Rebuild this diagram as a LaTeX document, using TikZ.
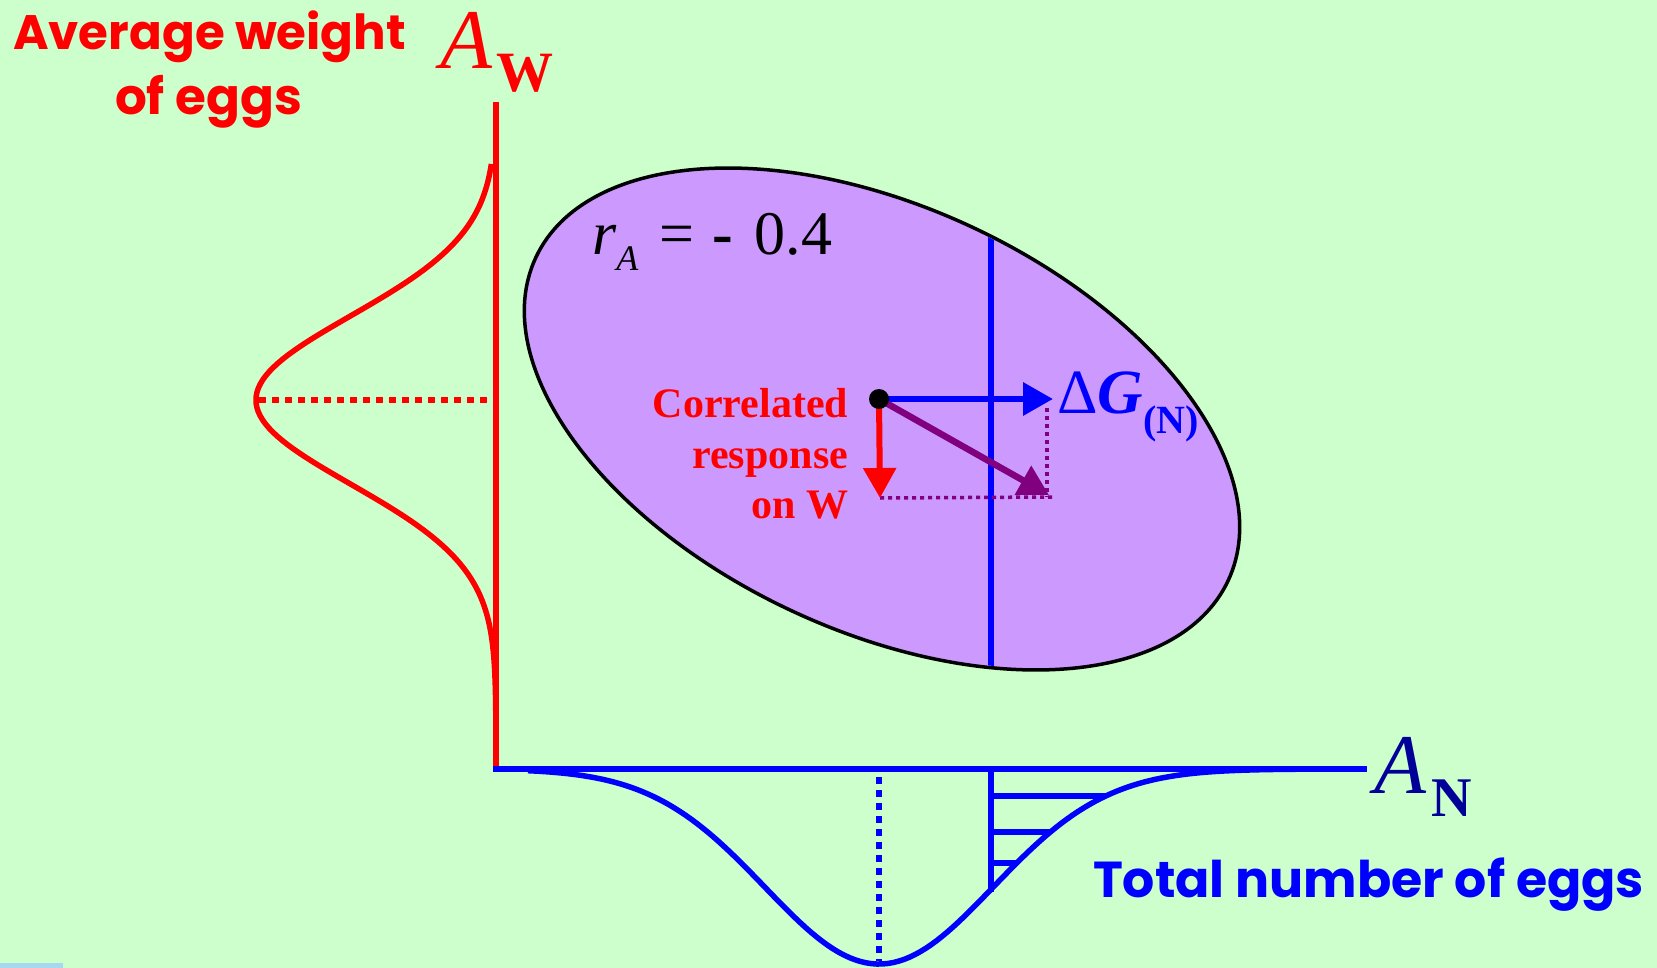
\documentclass[tikz,border=0pt]{standalone}
\usepackage{fontspec}
\setmainfont{Liberation Serif}
\newfontfamily\comicfont{Poppins}
\usetikzlibrary{arrows.meta}
\definecolor{bgg}{HTML}{CCFFCC}
\definecolor{lav}{HTML}{CC99FF}
\definecolor{pur}{HTML}{800080}
\definecolor{navy}{HTML}{000099}
\definecolor{rd}{HTML}{FF0000}
\definecolor{bl}{HTML}{0000FF}
\definecolor{edgeblue}{HTML}{A6D8EE}
\begin{document}
\begin{tikzpicture}[x=1pt,y=-1pt,
  lbl/.style={inner sep=0pt, outer sep=0pt, anchor=base west},
  lblr/.style={inner sep=0pt, outer sep=0pt, anchor=base east},
  comic/.style={lbl, font={\comicfont\bfseries\fontsize{50}{50}\selectfont}},
  corr/.style={lblr, text=rd, font={\bfseries\fontsize{42}{42}\selectfont}},
  bigA/.style={lbl, font={\itshape\fontsize{85}{85}\selectfont}},
  subW/.style={lbl, font={\bfseries\fontsize{57}{57}\selectfont}},
  arr/.style={line width=6.5pt, -{Triangle[length=30pt,width=32pt]}},
  dotline/.style={line width=6pt, dash pattern=on 6.5pt off 6.5pt},
  pdot/.style={line width=3.5pt, pur, dash pattern=on 4pt off 4pt},
  curve/.style={line width=5.5pt, line join=round},
  axis/.style={line width=6.5pt},
  bline/.style={bl, line width=6.5pt}
]
% background and margins
\fill[bgg] (0,0) rectangle (1657,968);
\useasboundingbox (0,0) rectangle (1657,968);
\fill[edgeblue] (0,963) rectangle (63,968);

% ellipse
\begin{scope}[shift={(882,419)}, rotate=-25]
  \filldraw[fill=lav, draw=black, line width=3.5pt] (0,0) ellipse [x radius=382pt, y radius=212pt];
\end{scope}
\begin{scope}
  \clip[shift={(882,419)}, rotate=-25] (0,0) ellipse [x radius=380pt, y radius=210pt];
  \draw[bl, line width=6pt] (991,150) -- (991,720);
\end{scope}

% left red gaussian
\draw[rd, curve] plot[domain=164:770, samples=150] ({496-240*exp(-0.5*((\x-400)/84)^2)}, \x);
\draw[rd, dotline] (259,400) -- (491,400);
\draw[rd, axis] (496,102) -- (496,772);

% bottom blue gaussian
\begin{scope}
  \clip (528,769) -- plot[domain=528:1340, samples=150] (\x, {769+195*exp(-0.5*((\x-879)/114)^2)}) -- (1340,769) -- cycle;
  \draw[bline] (991,796) -- (1400,796);
  \draw[bline] (991,832) -- (1400,832);
  \draw[bline] (991,863) -- (1400,863);
\end{scope}
\draw[bline] (991,769) -- (991,892);
\draw[bl, curve] plot[domain=528:1340, samples=150] (\x, {769+195*exp(-0.5*((\x-879)/114)^2)});
\draw[bl, dotline] (879,777) -- (879,961);
\draw[bl, axis] (493,769) -- (1367,769);

% vectors
\coordinate (o) at (879,399);
\coordinate (bt) at (1053,399);
\coordinate (rt) at (880,498);
\coordinate (pt) at (1049,495);
\coordinate (c1) at (1053,497);
\coordinate (c2) at (1047,408);
\coordinate (c3) at (1047,497);
\draw[pdot] (rt) -- (c1);
\draw[pdot] (c2) -- (c3);
\draw[arr, bl] (o) -- (bt);
\draw[arr, rd, line width=6pt] (o) -- (rt);
\draw[arr, pur, line width=6.5pt] (o) -- (pt);
\node[circle, fill=black, inner sep=0pt, minimum size=20pt] (dot) at (o) {};

% labels
\node[comic, text=rd] (aw1) at (13,50) {\resizebox{393pt}{!}{Average weight}};
\node[comic, text=rd] (aw2) at (115,115) {\resizebox{187pt}{!}{of eggs}};
\node[comic, text=bl] (tn) at (1093,897) {\resizebox{551pt}{!}{Total number of eggs}};

\node[bigA, text=rd] (awA) at (440,69) {A};
\node[subW, text=rd] (awW) at (496,92) {W};
\node[bigA, text=navy] (anA) at (1374,793) {A};
\node[subW, text=navy, font={\bfseries\fontsize{56}{56}\selectfont}] (anN) at (1431,816) {N};

\node[lbl, font={\fontsize{62}{62}\selectfont}] (rA) at (592,255)
  {\textit{r}\raisebox{-16pt}{\fontsize{36}{36}\selectfont\itshape A}\hspace{21pt}=\hspace{18pt}\textbf{-}\hspace{22pt}0.4};

\node[lbl, text=bl, font={\fontsize{63}{63}\selectfont}] (dG) at (1057,413)
  {Δ\textbf{\textit{G}}\raisebox{-20pt}{\fontsize{40}{40}\selectfont\bfseries (N)}};

\node[corr] (cr1) at (848,417) {Correlated};
\node[corr] (cr2) at (848,468) {response};
\node[corr] (cr3) at (848,518) {on W};
\end{tikzpicture}
\end{document}
